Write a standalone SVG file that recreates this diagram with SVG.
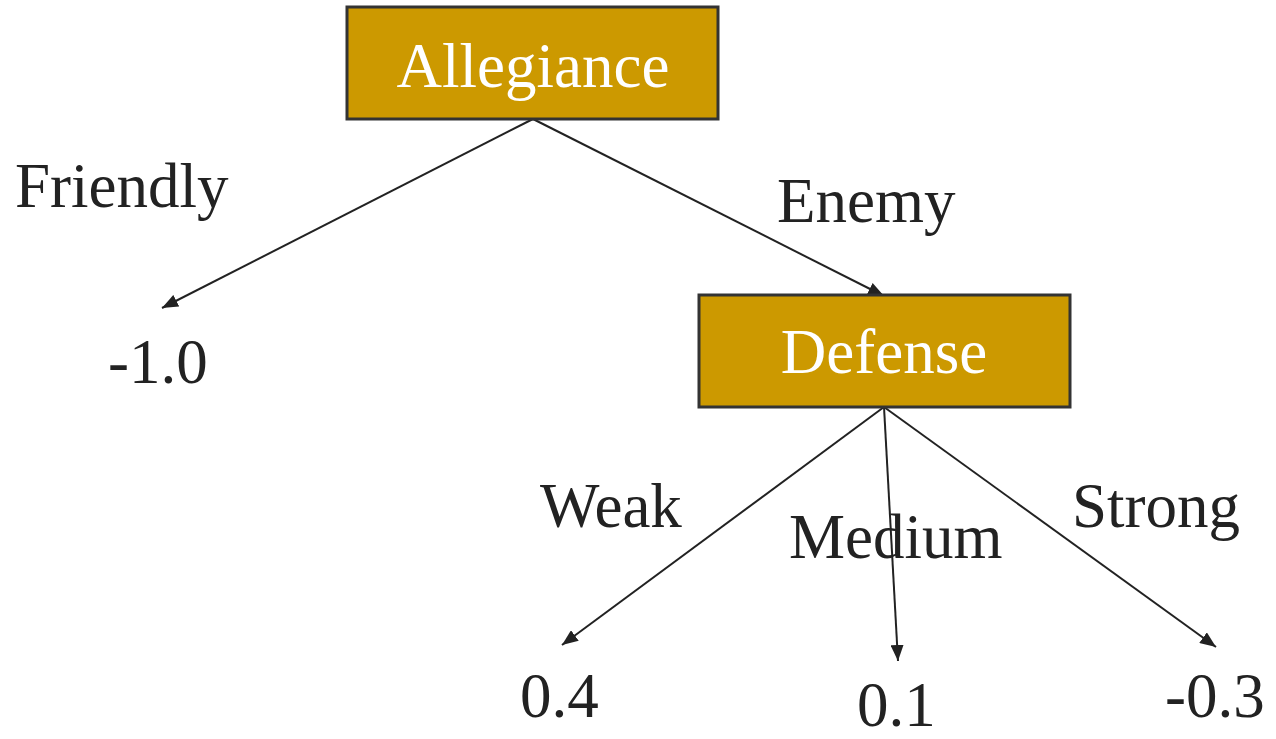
<svg xmlns="http://www.w3.org/2000/svg" width="1276" height="739" viewBox="0 0 1276 739">
  <style>
    .box { fill: #cc9900; stroke: #333333; stroke-width: 3; }
    .title { font-family: "Liberation Serif", "Times New Roman", serif; font-size: 63px; fill: #ffffff; text-anchor: middle; }
    .lbl { font-family: "Liberation Serif", "Times New Roman", serif; font-size: 63px; fill: #222222; }
    .edge { stroke: #222222; stroke-width: 2; fill: none; marker-end: url(#arrow); }
  </style>
  <defs>
    <!-- filled triangular arrowhead, sized in user units -->
    <marker id="arrow" viewBox="0 0 16 13" refX="16" refY="6.5" markerWidth="16" markerHeight="13" markerUnits="userSpaceOnUse" orient="auto">
      <path d="M0,0 L16,6.5 L0,13 Z" fill="#222222"/>
    </marker>
  </defs>

  <g id="connectors">
    <line class="edge" x1="533" y1="119" x2="162" y2="308"/>
    <line class="edge" x1="533" y1="119" x2="884" y2="296"/>
    <line class="edge" x1="884" y1="407" x2="562" y2="645"/>
    <line class="edge" x1="884" y1="407" x2="898" y2="661"/>
    <line class="edge" x1="884" y1="407" x2="1216" y2="647"/>
  </g>

  <g id="node-allegiance">
    <rect class="box" x="347" y="7" width="371" height="112"/>
    <text class="title" x="533" y="87">Allegiance</text>
  </g>

  <g id="node-defense">
    <rect class="box" x="699" y="295" width="371" height="112"/>
    <text class="title" x="884" y="373">Defense</text>
  </g>

  <g id="edge-labels">
    <text class="lbl" x="15" y="207">Friendly</text>
    <text class="lbl" x="777" y="222">Enemy</text>
    <text class="lbl" x="540" y="527">Weak</text>
    <text class="lbl" x="789" y="558">Medium</text>
    <text class="lbl" x="1072" y="527">Strong</text>
  </g>

  <g id="leaf-values">
    <text class="lbl" x="108" y="383">-1.0</text>
    <text class="lbl" x="520" y="717">0.4</text>
    <text class="lbl" x="857" y="726">0.1</text>
    <text class="lbl" x="1165" y="717">-0.3</text>
  </g>
</svg>
